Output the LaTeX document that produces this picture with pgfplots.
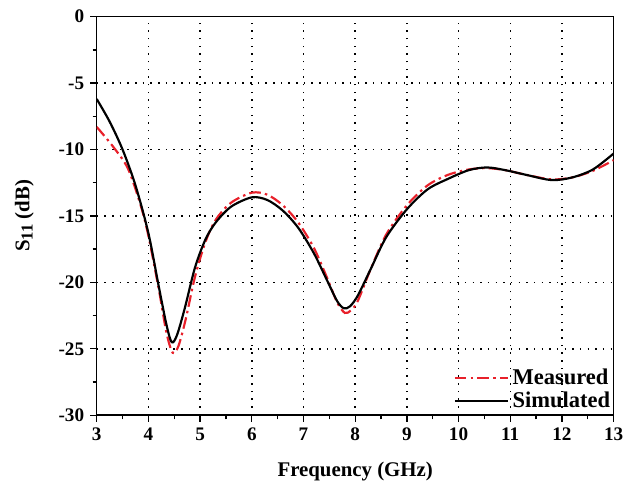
\documentclass[border=0pt]{standalone}
\usepackage{fontspec}
\setmainfont{Liberation Serif}
\usepackage{pgfplots}
\pgfplotsset{compat=1.18}

\definecolor{measred}{HTML}{E8202A}

\begin{document}
\begin{tikzpicture}
\begin{axis}[
    scale only axis,
    width=310pt, height=239pt,
    xmin=3, xmax=13,
    ymin=-30, ymax=0,
    xtick={3,4,...,13},
    ytick={-30,-25,...,0},
    minor x tick num=1,
    minor y tick num=1,
    tick pos=left,
    tick align=outside,
    major tick length=4pt,
    minor tick length=2.5pt,
    axis line style={line width=0.9pt},
    every tick/.style={line width=0.8pt, black},
    grid=major,
    major grid style={black, line width=0.9pt, dash pattern=on 0.9pt off 3.7pt},
    /pgf/number format/assume math mode=true,
    ticklabel style={font=\fontsize{11.5}{13}\selectfont\bfseries},
    xlabel={Frequency (GHz)},
    ylabel={S\raisebox{-0.35ex}{\fontsize{10}{10}\selectfont 11} (dB)},
    label style={font=\fontsize{12.5}{14}\selectfont\bfseries},
    xlabel style={yshift=-6pt},
    ylabel style={yshift=8pt},
    legend style={draw=none, fill=none, at={(rel axis cs:1.01,-0.005)}, anchor=south east,
        font=\fontsize{13.5}{15}\selectfont\bfseries, row sep=-1pt},
    legend cell align=left,
    legend image code/.code={\draw[#1] (0pt,0pt) -- (32pt,0pt);},
]
\coordinate (sw) at (rel axis cs:0,0);
\coordinate (ne) at (rel axis cs:1,1);

\addplot[measred, line width=1.3pt, smooth, tension=0.5,
    dash pattern=on 7pt off 2.5pt on 1.5pt off 2.5pt]
    coordinates {
    (3,-8.3) (3.3,-9.7) (3.6,-11.4) (3.85,-14.2) (4.0,-16.5) (4.2,-20.5)
    (4.35,-23.8) (4.47,-25.3) (4.58,-24.8) (4.72,-22.8) (4.9,-19.6) (5.1,-17.0)
    (5.3,-15.3) (5.6,-14.0) (6.0,-13.25) (6.3,-13.4) (6.6,-14.2) (6.9,-15.5)
    (7.2,-17.4) (7.45,-19.6) (7.65,-21.5) (7.8,-22.3) (7.92,-22.1) (8.05,-21.4)
    (8.3,-19.0) (8.6,-16.4) (9.0,-14.2) (9.4,-12.7) (9.8,-11.9) (10.2,-11.5)
    (10.55,-11.4) (10.9,-11.55) (11.3,-11.9) (11.8,-12.25) (12.2,-12.1)
    (12.6,-11.6) (13,-10.8)
    };
\addlegendentry{Measured}

\addplot[black, line width=1.3pt, smooth, tension=0.5]
    coordinates {
    (3,-6.2) (3.25,-7.9) (3.5,-10.0) (3.75,-12.7) (4.0,-16.3) (4.2,-20.3)
    (4.35,-23.2) (4.45,-24.5) (4.55,-24.0) (4.7,-22.0) (4.9,-18.9) (5.1,-16.8)
    (5.3,-15.5) (5.6,-14.3) (6.0,-13.6) (6.3,-13.8) (6.6,-14.6) (6.9,-15.9)
    (7.2,-17.8) (7.45,-19.8) (7.65,-21.4) (7.78,-21.95) (7.9,-21.8) (8.05,-21.0)
    (8.3,-19.0) (8.6,-16.6) (9.0,-14.5) (9.4,-13.0) (9.8,-12.2) (10.2,-11.55)
    (10.55,-11.35) (10.9,-11.55) (11.3,-11.9) (11.8,-12.3) (12.2,-12.1)
    (12.6,-11.5) (13,-10.3)
    };
\addlegendentry{Simulated}
\end{axis}
\pgfresetboundingbox
\path ([shift={(-58pt,-43pt)}]sw) rectangle ([shift={(17pt,10pt)}]ne);
\end{tikzpicture}
\end{document}
